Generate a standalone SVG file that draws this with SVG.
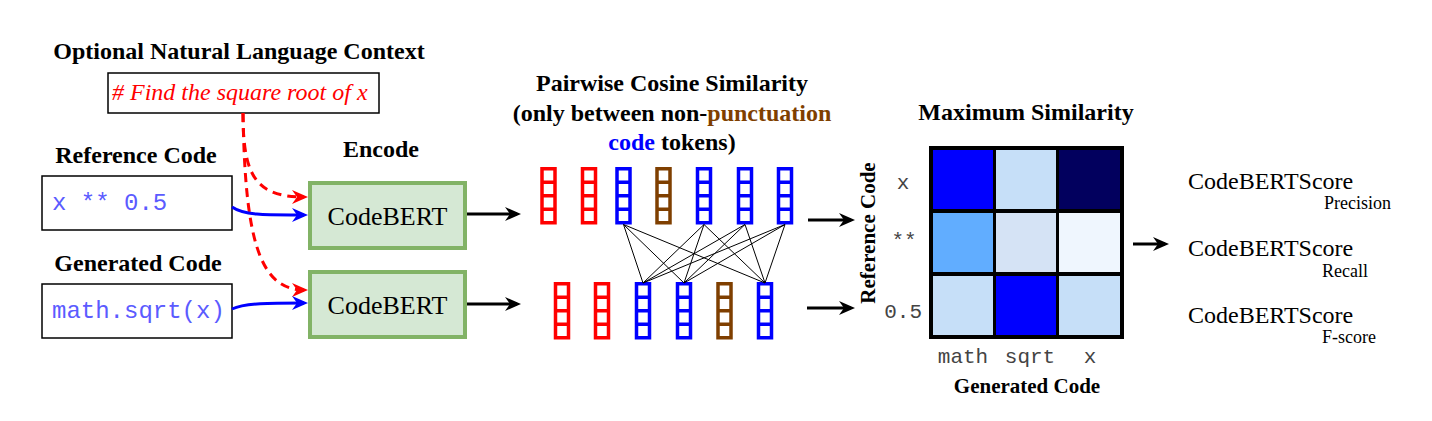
<svg xmlns="http://www.w3.org/2000/svg" width="1432" height="421" viewBox="0 0 1432 421">
<defs>
<style>
.title{font-family:"Liberation Serif","Times New Roman",serif;font-weight:bold;font-size:24px;fill:#000;text-anchor:middle}
.serif{font-family:"Liberation Serif","Times New Roman",serif;fill:#000}
.mono{font-family:"Liberation Mono","Courier New",monospace}
.code{font-size:24px;fill:#5b5bff}
.axis{font-size:21px;fill:#444}
.box{fill:#fff;stroke:#000;stroke-width:1.5}
.enc{fill:#d5e8d4;stroke:#82b366;stroke-width:4}
.vr{fill:#fff;stroke:#ff0000;stroke-width:3.5}
.vb{fill:#fff;stroke:#0000ff;stroke-width:3.5}
.vn{fill:#fff;stroke:#7f3f00;stroke-width:3.5}
.sep{stroke-width:3.5}
.pair{stroke:#000;stroke-width:1;fill:none}
.blk{stroke:#000;stroke-width:3;fill:none}
.blu{stroke:#0000ff;stroke-width:3;fill:none}
.red{stroke:#ff0000;stroke-width:3;fill:none;stroke-dasharray:9,6}
</style>
<marker id="ab" markerUnits="userSpaceOnUse" viewBox="0 0 16 14" refX="12" refY="7" markerWidth="16" markerHeight="14" orient="auto"><path d="M0,0 L16,7 L0,14 L5,7 z" fill="#000"/></marker>
<marker id="au" markerUnits="userSpaceOnUse" viewBox="0 0 16 14" refX="12" refY="7" markerWidth="16" markerHeight="14" orient="auto"><path d="M0,0 L16,7 L0,14 L5,7 z" fill="#0000ff"/></marker>
<marker id="ar" markerUnits="userSpaceOnUse" viewBox="0 0 16 14" refX="12" refY="7" markerWidth="16" markerHeight="14" orient="auto"><path d="M0,0 L16,7 L0,14 L5,7 z" fill="#ff0000"/></marker>
<g id="vec"><rect x="-6.5" y="0" width="13" height="54"/><path d="M-6.5,13.5 H6.5 M-6.5,27 H6.5 M-6.5,40.5 H6.5" class="sep"/></g>
</defs>
<rect width="1432" height="421" fill="#fff"/>

<g id="nl-context">
<text class="title" x="239" y="59">Optional Natural Language Context</text>
<rect class="box" x="108" y="73" width="271" height="40"/>
<text class="serif" x="112" y="100" font-size="24" font-style="italic" style="fill:#ff0000"># Find the square root of x</text>
</g>

<g id="reference-code">
<text class="title" x="136" y="163">Reference Code</text>
<rect class="box" x="42" y="176" width="190" height="54"/>
<text class="mono code" x="52" y="210">x ** 0.5</text>
</g>

<g id="generated-code">
<text class="title" x="138" y="271">Generated Code</text>
<rect class="box" x="42" y="284" width="190" height="54"/>
<text class="mono code" x="52" y="318">math.sqrt(x)</text>
</g>

<g id="encoder-ref">
<text class="title" x="381" y="157">Encode</text>
<rect class="enc" x="310" y="183" width="155" height="65"/>
<text class="serif" x="387.5" y="225" font-size="26" text-anchor="middle">CodeBERT</text>
</g>

<g id="encoder-gen">
<rect class="enc" x="310" y="272" width="155" height="65"/>
<text class="serif" x="387.5" y="314" font-size="26" text-anchor="middle">CodeBERT</text>
</g>

<g id="pairwise-title">
<text class="title" x="672" y="91">Pairwise Cosine Similarity</text>
<text class="title" x="672" y="121">(only between non-<tspan fill="#7f3f00">punctuation</tspan></text>
<text class="title" x="672" y="150"><tspan fill="#0000ff">code</tspan> tokens)</text>
</g>

<g id="ref-tokens">
<use href="#vec" class="vr" x="548.5" y="168.75"/>
<use href="#vec" class="vr" x="589" y="168.75"/>
<use href="#vec" class="vb" x="623.5" y="168.75"/>
<use href="#vec" class="vn" x="663.5" y="168.75"/>
<use href="#vec" class="vb" x="704" y="168.75"/>
<use href="#vec" class="vb" x="745" y="168.75"/>
<use href="#vec" class="vb" x="785" y="168.75"/>
</g>

<g id="gen-tokens">
<use href="#vec" class="vr" x="562" y="283.75"/>
<use href="#vec" class="vr" x="602" y="283.75"/>
<use href="#vec" class="vb" x="643" y="283.75"/>
<use href="#vec" class="vb" x="684" y="283.75"/>
<use href="#vec" class="vn" x="724.5" y="283.75"/>
<use href="#vec" class="vb" x="765" y="283.75"/>
</g>

<g id="similarity-matrix">
<text class="title" x="1026" y="120">Maximum Similarity</text>
<rect x="929" y="146" width="195" height="193" fill="#000"/>
<rect x="933" y="150" width="60" height="59" fill="#0000ff"/>
<rect x="996" y="150" width="60" height="59" fill="#c6dff8"/>
<rect x="1059" y="150" width="61" height="59" fill="#02005e"/>
<rect x="933" y="213" width="60" height="59" fill="#61adff"/>
<rect x="996" y="213" width="60" height="59" fill="#d5e3f5"/>
<rect x="1059" y="213" width="61" height="59" fill="#eff6fe"/>
<rect x="933" y="276" width="60" height="59" fill="#c6dff8"/>
<rect x="996" y="276" width="60" height="59" fill="#0000ff"/>
<rect x="1059" y="276" width="61" height="59" fill="#c6dff8"/>
<text class="mono axis" x="903" y="189" text-anchor="middle">x</text>
<text class="mono axis" x="904" y="247" text-anchor="middle">**</text>
<text class="mono axis" x="922" y="318" text-anchor="end">0.5</text>
<text class="mono axis" x="963" y="363" text-anchor="middle">math</text>
<text class="mono axis" x="1030" y="363" text-anchor="middle">sqrt</text>
<text class="mono axis" x="1090" y="363" text-anchor="middle">x</text>
<text class="title" x="1027" y="393" style="font-size:21px">Generated Code</text>
<text class="title" transform="translate(875,233) rotate(-90)" style="font-size:21px">Reference Code</text>
</g>

<g id="scores">
<text class="serif" x="1188" y="189" font-size="24">CodeBERTScore</text>
<text class="serif" x="1324" y="209" font-size="18">Precision</text>
<text class="serif" x="1188" y="256" font-size="24">CodeBERTScore</text>
<text class="serif" x="1322" y="277" font-size="18">Recall</text>
<text class="serif" x="1188" y="323" font-size="24">CodeBERTScore</text>
<text class="serif" x="1322" y="343" font-size="18">F-score</text>
</g>

<g id="connectors">
<path class="red" d="M243,113 C243,175 255,197 304,197" marker-end="url(#ar)"/>
<path class="red" d="M243,113 C245,235 258,290 304,290" marker-end="url(#ar)"/>
<path class="blu" d="M232,207 C245,216 270,215 304,215" marker-end="url(#au)"/>
<path class="blu" d="M232,309 C245,303 270,303 304,303" marker-end="url(#au)"/>
<path class="blk" d="M467,214 H517" marker-end="url(#ab)"/>
<path class="blk" d="M467,304 H517" marker-end="url(#ab)"/>
<path class="blk" d="M808,220 H851" marker-end="url(#ab)"/>
<path class="blk" d="M807,308 H851" marker-end="url(#ab)"/>
<path class="blk" d="M1133,244 H1165" marker-end="url(#ab)"/>
<g class="pair">
<path d="M623.5,224.5 L643,283 M623.5,224.5 L684,283 M623.5,224.5 L765,283"/>
<path d="M704,224.5 L643,283 M704,224.5 L684,283 M704,224.5 L765,283"/>
<path d="M745,224.5 L643,283 M745,224.5 L684,283 M745,224.5 L765,283"/>
<path d="M785,224.5 L643,283 M785,224.5 L684,283 M785,224.5 L765,283"/>
</g>
</g>
</svg>
